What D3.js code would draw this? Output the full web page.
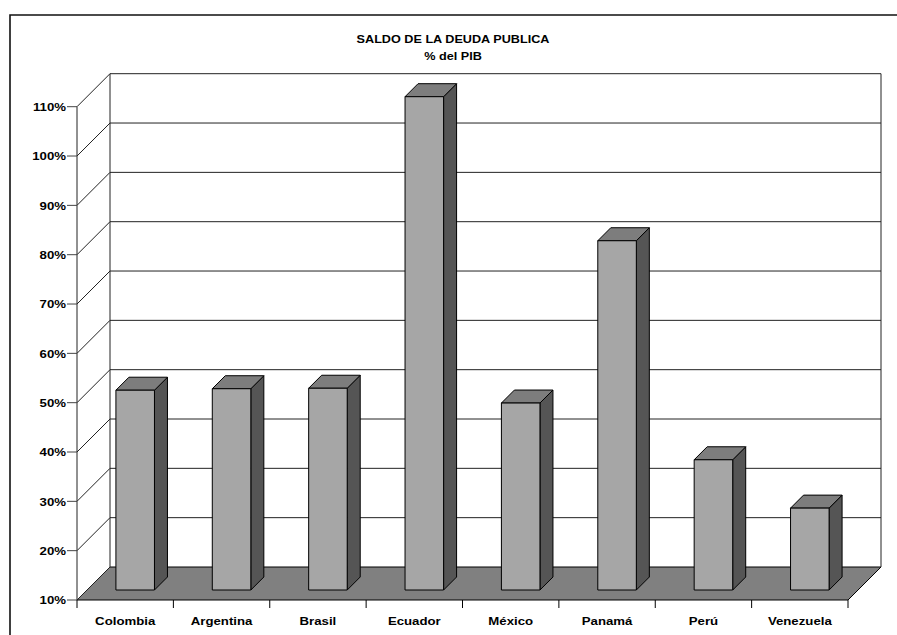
<!DOCTYPE html>
<html>
<head>
<meta charset="utf-8">
<script src="https://cdn.jsdelivr.net/npm/d3@7"></script>
<style>
  body { margin: 0; background: #fff; }
  text { font-family: "Liberation Sans", Arial, sans-serif; font-weight: bold; fill: #000; }
</style>
</head>
<body>
<div id="chart"></div>
<script>
var countries = ["Colombia", "Argentina", "Brasil", "Ecuador", "México", "Panamá", "Perú", "Venezuela"];
var deuda = [50.5, 50.8, 50.9, 110, 47.9, 80.8, 36.4, 26.6];
var yTicks = [10, 20, 30, 40, 50, 60, 70, 80, 90, 100, 110];
var titulo = ["SALDO DE LA DEUDA PUBLICA", "% del PIB"];

var W = 897, H = 635;
var plotLeft = 77, plotRight = 848, plotBottom = 600, plotTop = 106.7;
var depth = 33;        // wall depth
var barOff = 10;       // bar front face offset into the depth
var barDepth = 13;
var stretch = 1.15;

var svg = d3.select("#chart").append("svg")
  .attr("width", W)
  .attr("height", H);

// outer frame
svg.append("path")
  .attr("d", "M10," + (H + 2) + "V15H" + (W + 2))
  .attr("fill", "none")
  .attr("stroke", "#111")
  .attr("stroke-width", 1.6);

var x = d3.scaleBand()
  .domain(countries)
  .range([plotLeft, plotRight])
  .paddingInner(0.6)
  .paddingOuter(0.3);

var y = d3.scaleLinear()
  .domain([10, 110])
  .range([plotBottom, plotTop]);

function stext(g, str, px, py, size, anchor) {
  g.append("text")
    .attr("transform", "translate(" + px + "," + py + ") scale(" + stretch + ",1)")
    .attr("text-anchor", anchor)
    .style("font-size", size + "px")
    .text(str);
}

// title
titulo.forEach(function(t, i) {
  stext(svg, t, 453, 43 + i * 16.5, 11, "middle");
});

// floor
var floor = [[plotLeft, plotBottom], [plotRight, plotBottom],
  [plotRight + depth, plotBottom - depth], [plotLeft + depth, plotBottom - depth]];
svg.append("path")
  .attr("d", d3.line()(floor) + "Z")
  .attr("fill", "#808080")
  .attr("stroke", "#000")
  .attr("stroke-width", 1);

// back wall gridlines
var grid = svg.append("g").attr("stroke", "#222").attr("stroke-width", 1).attr("fill", "none");
yTicks.forEach(function(t) {
  if (t === 10) return;
  var yy = y(t);
  grid.append("line")
    .attr("x1", plotLeft + depth).attr("x2", plotRight + depth)
    .attr("y1", yy - depth).attr("y2", yy - depth);
  grid.append("line")
    .attr("x1", plotLeft).attr("x2", plotLeft + depth)
    .attr("y1", yy).attr("y2", yy - depth);
});
// wall edges
grid.append("line")
  .attr("x1", plotLeft).attr("x2", plotLeft)
  .attr("y1", y(110)).attr("y2", y(10));
grid.append("line")
  .attr("x1", plotLeft + depth).attr("x2", plotLeft + depth)
  .attr("y1", y(110) - depth).attr("y2", y(10) - depth);
grid.append("line")
  .attr("x1", plotRight + depth).attr("x2", plotRight + depth)
  .attr("y1", y(110) - depth).attr("y2", y(10) - depth);
grid.append("line")
  .attr("x1", plotLeft).attr("x2", plotLeft + depth)
  .attr("y1", y(10)).attr("y2", y(10) - depth);

// y axis ticks and labels
var yAxis = svg.append("g");
yTicks.forEach(function(t) {
  yAxis.append("line")
    .attr("x1", plotLeft - 10).attr("x2", plotLeft)
    .attr("y1", y(t)).attr("y2", y(t))
    .attr("stroke", "#444");
  stext(yAxis, t + "%", plotLeft - 11, y(t) + 4.2, 11.5, "end");
});

// x axis ticks and labels
var xAxis = svg.append("g");
var step = x.step();
d3.range(countries.length + 1).forEach(function(i) {
  var xx = plotLeft + i * step;
  xAxis.append("line")
    .attr("x1", xx).attr("x2", xx)
    .attr("y1", plotBottom).attr("y2", plotBottom + 8)
    .attr("stroke", "#000");
});
countries.forEach(function(c) {
  stext(xAxis, c, x(c) + x.bandwidth() / 2, 625, 11.5, "middle");
});

// bars
var bars = svg.append("g")
  .attr("stroke", "#000")
  .attr("stroke-width", 1)
  .attr("stroke-linejoin", "round");

countries.forEach(function(c, i) {
  var x0 = x(c) + barOff, x1 = x0 + x.bandwidth();
  var yb = plotBottom - barOff, yt = y(deuda[i]) - barOff;
  var d = barDepth;
  // side
  bars.append("path")
    .attr("d", d3.line()([[x1, yt], [x1 + d, yt - d], [x1 + d, yb - d], [x1, yb]]) + "Z")
    .attr("fill", "#555555");
  // top
  bars.append("path")
    .attr("d", d3.line()([[x0, yt], [x0 + d, yt - d], [x1 + d, yt - d], [x1, yt]]) + "Z")
    .attr("fill", "#7d7d7d");
  // front
  bars.append("rect")
    .attr("x", x0).attr("y", yt)
    .attr("width", x1 - x0).attr("height", yb - yt)
    .attr("fill", "#a6a6a6");
});
</script>
</body>
</html>
